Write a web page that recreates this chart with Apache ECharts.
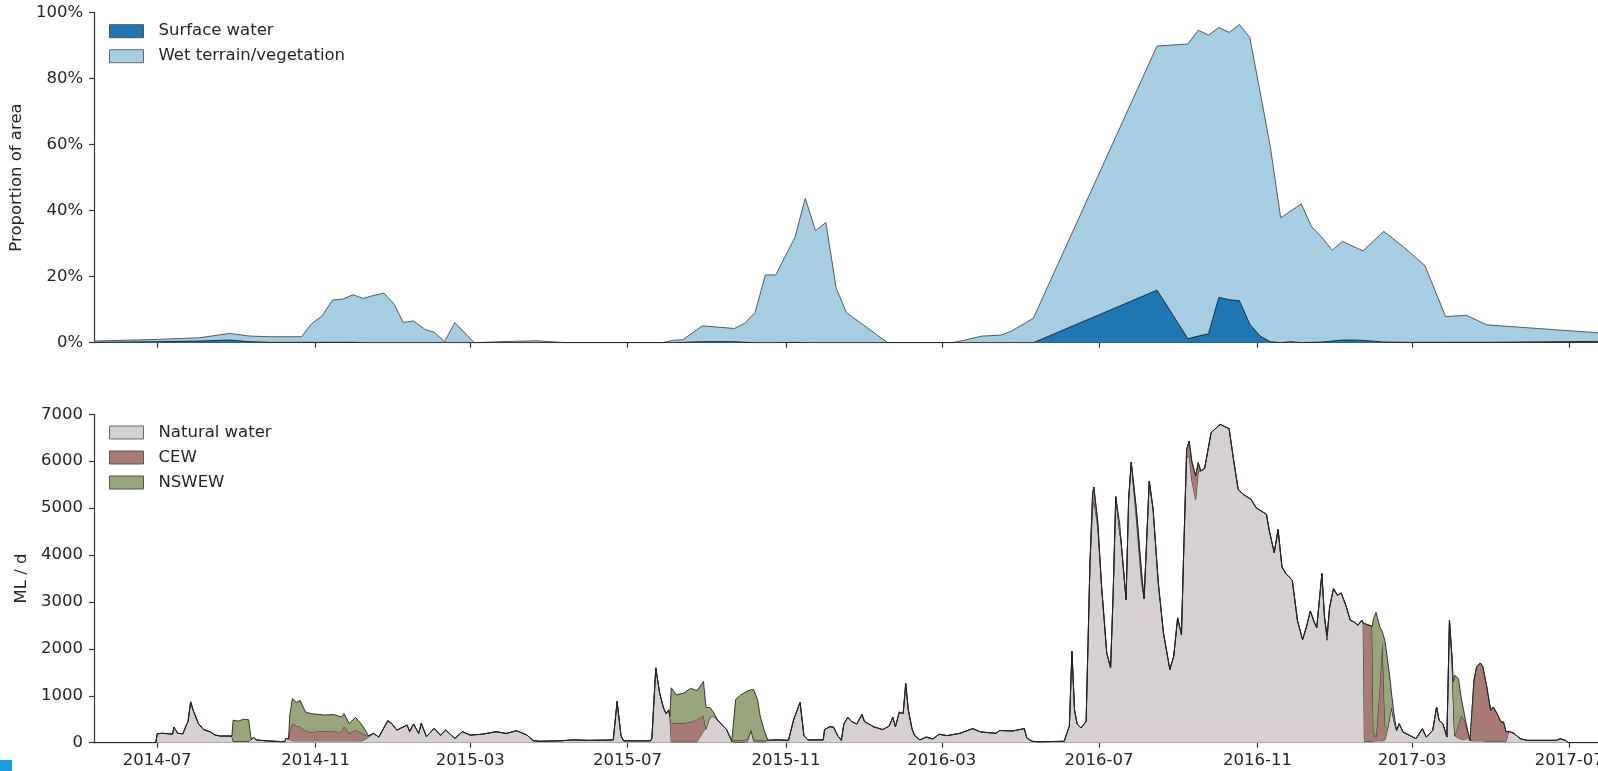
<!DOCTYPE html>
<html>
<head>
<meta charset="utf-8">
<script src="https://cdn.jsdelivr.net/npm/echarts@6/dist/echarts.min.js"></script>
<style>
html,body{margin:0;padding:0;background:#fff;overflow:hidden;}
#chart{width:1640px;height:771px;}
</style>
</head>
<body>
<div id="chart"></div>
<script>
// ---------- Top panel: proportion of area (%) ----------
var areaDates = [
'2014-05-13','2014-07-01','2014-08-03','2014-08-26','2014-09-11','2014-09-27','2014-10-21','2014-10-29',
'2014-11-06','2014-11-14','2014-11-22','2014-11-30','2014-12-08','2014-12-15','2014-12-24','2015-01-01',
'2015-01-08','2015-01-16','2015-01-25','2015-02-01','2015-02-09','2015-02-17','2015-03-04','2015-03-24',
'2015-04-21','2015-05-14','2015-07-28','2015-08-05','2015-08-13','2015-08-28','2015-09-22','2015-09-30',
'2015-10-08','2015-10-16','2015-10-24','2015-11-08','2015-11-16','2015-11-24','2015-12-02','2015-12-10',
'2015-12-18','2016-01-19','2016-03-09','2016-03-18','2016-04-01','2016-04-16','2016-04-24','2016-05-11',
'2016-08-15','2016-09-08','2016-09-16','2016-09-24','2016-10-02','2016-10-10','2016-10-18','2016-10-26',
'2016-11-03','2016-11-11','2016-11-19','2016-11-27','2016-12-05','2016-12-13','2016-12-21','2016-12-29',
'2017-01-06','2017-01-14','2017-01-22','2017-02-07','2017-02-23','2017-03-11','2017-03-27','2017-04-12',
'2017-04-28','2017-08-21'
];
var surfaceWater = [
0.1,0.3,0.5,0.8,0.3,0.1,0.1,0.1,
0.1,0.1,0.1,0.1,0,0,0,0,
0,0,0,0,0,0,0,0,
0,0,0,0,0.1,0.3,0.3,0.1,
0,0,0,0.1,0,0,0,0,
0,0,0,0,0,0,0,0,
15.9,1.2,2.0,2.7,13.7,13.0,12.7,5.6,
2.0,0.3,0,0.3,0,0.1,0.2,0.5,
0.8,0.8,0.7,0.2,0.1,0.1,0.1,0.1,
0.1,0.5
];
var wetTerrain = [
0.4,0.7,1.0,2.0,1.7,1.7,1.7,5.7,
8.0,12.8,13.1,14.4,13.4,14.2,15.0,11.6,
6.1,6.6,4.0,3.2,0.3,6.1,0,0.3,
0.6,0,0,0.7,0.8,4.8,4.0,5.8,
9.1,20.5,20.5,31.8,43.7,33.9,36.4,16.5,
9.1,0,0,0.7,2.0,2.3,3.5,7.4,
73.9,89.2,92.6,90.4,81.7,80.9,83.6,86.8,
74.0,58.9,37.8,39.6,42.0,35.0,31.7,27.5,
29.9,28.4,27.1,33.5,28.7,23.2,7.8,8.2,
5.3,1.7
];

// ---------- Bottom panel: flow (ML/d) ----------
var flowDates = [
'2014-05-13','2014-06-30','2014-07-01','2014-07-05','2014-07-10','2014-07-13','2014-07-14','2014-07-17',
'2014-07-21','2014-07-24','2014-07-25','2014-07-27','2014-07-29','2014-08-02','2014-08-06','2014-08-11',
'2014-08-15','2014-08-19','2014-08-28','2014-08-29','2014-09-02','2014-09-06','2014-09-10','2014-09-12',
'2014-09-14','2014-09-16','2014-09-26','2014-10-08','2014-10-09','2014-10-11','2014-10-12','2014-10-14',
'2014-10-17','2014-10-20','2014-10-24','2014-10-28','2014-11-08','2014-11-15','2014-11-21','2014-11-23',
'2014-11-27','2014-12-02','2014-12-07','2014-12-11','2014-12-12','2014-12-16','2014-12-20','2014-12-27',
'2014-12-30','2015-01-03','2015-01-11','2015-01-13','2015-01-16','2015-01-20','2015-01-22','2015-01-26',
'2015-02-01','2015-02-06','2015-02-10','2015-02-17','2015-02-23','2015-03-01','2015-03-10','2015-03-21',
'2015-03-29','2015-04-06','2015-04-14','2015-04-19','2015-04-24','2015-05-10','2015-05-20','2015-06-01',
'2015-06-15','2015-06-20','2015-06-23','2015-06-26','2015-06-28','2015-07-19','2015-07-20','2015-07-23',
'2015-07-26','2015-07-29','2015-07-31','2015-08-02','2015-08-03','2015-08-04','2015-08-08','2015-08-14',
'2015-08-19','2015-08-24','2015-08-29','2015-08-31','2015-09-03','2015-09-06','2015-09-09','2015-09-16',
'2015-09-20','2015-09-21','2015-09-23','2015-09-27','2015-10-02','2015-10-05','2015-10-07','2015-10-10',
'2015-10-12','2015-10-15','2015-10-18','2015-10-25','2015-11-03','2015-11-07','2015-11-12','2015-11-15',
'2015-11-18','2015-11-30','2015-12-01','2015-12-05','2015-12-08','2015-12-11','2015-12-14','2015-12-16',
'2015-12-19','2015-12-22','2015-12-26','2015-12-30','2016-01-01','2016-01-08','2016-01-15','2016-01-20',
'2016-01-23','2016-01-25','2016-01-28','2016-01-31','2016-02-02','2016-02-04','2016-02-07','2016-02-09',
'2016-02-13','2016-02-18','2016-02-23','2016-02-28','2016-03-05','2016-03-15','2016-03-25','2016-03-31',
'2016-04-12','2016-04-15','2016-04-25','2016-05-04','2016-05-06','2016-05-10','2016-05-15','2016-06-04',
'2016-06-06','2016-06-08','2016-06-10','2016-06-12','2016-06-14','2016-06-17','2016-06-21','2016-06-24',
'2016-06-26','2016-06-27','2016-06-30','2016-07-03','2016-07-07','2016-07-10','2016-07-12','2016-07-14',
'2016-07-17','2016-07-18','2016-07-22','2016-07-24','2016-07-26','2016-07-30','2016-08-03','2016-08-05',
'2016-08-09','2016-08-12','2016-08-16','2016-08-20','2016-08-25','2016-08-28','2016-08-31','2016-09-03',
'2016-09-05','2016-09-07','2016-09-09','2016-09-11','2016-09-14','2016-09-16','2016-09-18','2016-09-21',
'2016-09-26','2016-10-03','2016-10-10','2016-10-13','2016-10-17','2016-10-21','2016-10-27','2016-10-31',
'2016-11-08','2016-11-10','2016-11-14','2016-11-17','2016-11-20','2016-11-23','2016-11-28','2016-12-02',
'2016-12-06','2016-12-09','2016-12-12','2016-12-15','2016-12-17','2016-12-21','2016-12-23','2016-12-25',
'2016-12-27','2016-12-30','2017-01-02','2017-01-05','2017-01-09','2017-01-12','2017-01-15','2017-01-18',
'2017-01-21','2017-01-22','2017-01-23','2017-01-29','2017-01-30','2017-02-01','2017-02-04','2017-02-06',
'2017-02-08','2017-02-10','2017-02-12','2017-02-13','2017-02-15','2017-02-17','2017-02-19','2017-02-22',
'2017-02-27','2017-03-04','2017-03-09','2017-03-12','2017-03-17','2017-03-20','2017-03-22','2017-03-25',
'2017-03-28','2017-03-30','2017-04-01','2017-04-02','2017-04-03','2017-04-06','2017-04-08','2017-04-11',
'2017-04-13','2017-04-15','2017-04-16','2017-04-18','2017-04-20','2017-04-23','2017-04-25','2017-04-28',
'2017-05-01','2017-05-03','2017-05-06','2017-05-09','2017-05-11','2017-05-13','2017-05-15','2017-05-19',
'2017-05-24','2017-05-29','2017-06-21','2017-06-24','2017-06-28','2017-06-30','2017-08-21'
];
var naturalWater = [
0,0,190,200,190,184,330,200,
190,400,450,870,690,410,280,234,
163,142,142,30,30,30,30,70,
113,57,35,21,92,80,40,40,
40,40,40,40,40,40,40,40,
40,40,40,100,142,198,120,468,
411,269,375,240,397,200,411,128,
305,160,269,92,234,163,180,234,
198,255,163,42,30,40,60,50,
55,60,880,150,40,40,100,1594,
1060,740,620,700,560,20,20,20,
20,20,250,300,550,560,480,280,
30,20,10,10,20,260,30,20,
20,20,50,60,50,490,860,150,
60,60,280,340,330,160,50,400,
540,450,400,600,450,340,280,350,
540,340,650,620,1260,700,280,150,
60,120,80,180,150,200,300,230,
200,260,250,300,100,30,20,30,
200,350,1950,700,400,313,455,3835,
5000,5150,4600,3336,1914,1594,3195,5243,
4500,4332,3052,5186,5982,4772,3421,3066,
5576,4972,3408,2341,1558,1842,2661,2305,
4332,6053,6130,5600,5186,5769,5790,5850,
6609,6786,6694,6110,5399,5292,5186,5008,
4866,4545,4048,4545,3747,3605,3463,2609,
2197,2467,2808,2574,2453,3605,2680,2183,
2894,3285,3143,3192,2894,2609,2574,2503,
2609,2550,30,30,40,40,40,40,
60,300,600,760,450,263,405,228,
156,85,299,120,263,761,476,400,
120,2609,1800,900,150,100,80,60,
100,50,50,40,40,40,40,30,
30,30,30,30,30,30,242,200,
85,50,50,85,50,0,0
];
var cewFlow = [
0,0,0,0,0,0,0,0,
0,0,0,0,0,0,0,0,
0,0,0,0,0,0,0,0,
0,0,0,0,0,0,220,370,
320,300,220,190,210,200,190,310,
160,230,160,40,0,0,0,0,
0,0,0,0,0,0,0,0,
0,0,0,0,0,0,0,0,
0,0,0,0,0,0,0,0,
0,0,0,0,0,0,0,0,
0,0,0,0,0,400,400,400,
420,470,326,0,0,0,0,0,
0,30,50,50,50,20,40,40,
30,20,0,0,0,0,0,0,
0,0,0,0,0,0,0,0,
0,0,0,0,0,0,0,0,
0,0,0,0,0,0,0,0,
0,0,0,0,0,0,0,0,
0,0,0,0,0,0,0,0,
0,0,0,0,0,0,0,0,
300,300,120,0,0,0,0,0,
0,0,0,0,0,200,200,0,
0,0,0,0,0,0,0,0,
0,200,300,400,500,200,0,0,
0,0,0,0,0,0,0,0,
0,0,0,0,0,0,0,0,
0,0,0,0,0,0,0,100,
0,0,0,0,0,0,0,0,
0,0,2510,2450,200,80,1200,2150,
300,0,0,0,0,0,0,0,
0,0,0,0,0,0,0,0,
0,0,0,0,0,300,500,400,
163,0,0,1290,1574,1660,1574,1157,
660,731,589,411,411,198,0,0,
0,0,0,0,0,0,0
];
var nswewFlow = [
0,0,0,0,0,0,0,0,
0,0,0,0,0,0,0,0,
0,0,0,450,430,470,460,0,
0,0,0,0,0,0,340,530,
500,560,400,390,340,360,320,270,
210,270,180,60,0,0,0,0,
0,0,0,0,0,0,0,0,
0,0,0,0,0,0,0,0,
0,0,0,0,0,0,0,0,
0,0,0,0,0,0,0,0,
0,0,0,0,0,750,600,640,
720,620,730,450,200,80,0,0,
0,0,860,960,1030,850,1060,860,
520,240,0,0,0,0,0,0,
0,0,0,0,0,0,0,0,
0,0,0,0,0,0,0,0,
0,0,0,0,0,0,0,0,
0,0,0,0,0,0,0,0,
0,0,0,0,0,0,0,0,
0,0,0,0,0,0,0,0,
0,0,0,0,0,0,0,0,
190,0,0,0,0,0,0,0,
0,0,0,0,0,0,0,0,
0,0,0,0,0,0,0,0,
0,0,0,0,0,0,0,0,
0,0,0,0,0,0,0,0,
0,0,0,0,0,0,0,0,
0,0,0,0,0,0,0,0,
0,0,0,0,2400,2660,1230,170,
1800,1450,730,300,150,0,0,0,
0,0,0,0,0,0,0,0,
0,0,0,400,1286,965,394,87,
0,0,0,0,0,0,0,0,
0,0,0,0,0,0,0,0,
0,0,0,0,0,0,0
];

// ---------- Axis ticks ----------
var xTickDates = ['2014-07-01','2014-11-01','2015-03-01','2015-07-01','2015-11-01',
                  '2016-03-01','2016-07-01','2016-11-01','2017-03-01','2017-07-01'];
var xMin = '2014-05-13', xMax = '2017-08-21';

function ts(s){ return echarts.number.parseDate(s).getTime(); }
var tickVals = xTickDates.map(ts);
// value first, timestamp second -> stacking happens on the value (y) dimension
function pairs(dates, vals){ return dates.map(function(d,i){ return [vals[i], ts(d)]; }); }
function pad(n){ return n < 10 ? '0' + n : '' + n; }

var FONT = 'DejaVu Sans';
var TXT = '#262626';
var AX = '#333333';

function xAxisCfg(gridIndex, showLabels){
  return {
    type: 'value', gridIndex: gridIndex, min: ts(xMin), max: ts(xMax), scale: true,
    axisLine: {show: true, onZero: false, lineStyle: {color: AX, width: 1.2}},
    axisTick: {show: true, length: 5, inside: false, customValues: tickVals, lineStyle: {color: AX, width: 1.2}},
    axisLabel: {show: showLabels, customValues: tickVals, hideOverlap: false, margin: 10,
      showMinLabel: true, showMaxLabel: true,
      fontFamily: FONT, fontSize: 16.5, color: TXT,
      formatter: function(v){ var d = new Date(v); return d.getFullYear() + '-' + pad(d.getMonth() + 1); }},
    splitLine: {show: false}, minorTick: {show: false}
  };
}

function areaSeries(name, xi, stack, dates, vals, fill, edge, z){
  return {name: name, type: 'line', xAxisIndex: xi, yAxisIndex: xi, stack: stack,
    encode: {x: 1, y: 0},
    data: pairs(dates, vals), symbol: 'none', smooth: false,
    lineStyle: {color: edge, width: 0.9}, areaStyle: {color: fill, opacity: 1}, z: z};
}

var chart = echarts.init(document.getElementById('chart'), null, {renderer: 'canvas'});
var option = {
  animation: false,
  backgroundColor: '#ffffff',
  grid: [
    {left: 94, top: 12.3, width: 1541, height: 330.4},
    {left: 94, top: 414.3, width: 1541, height: 328.4}
  ],
  xAxis: [xAxisCfg(0, false), xAxisCfg(1, true)],
  yAxis: [
    {type: 'value', gridIndex: 0, min: 0, max: 100, interval: 20,
     name: 'Proportion of area', nameLocation: 'middle', nameGap: 58,
     nameTextStyle: {fontFamily: FONT, fontSize: 16.5, color: TXT},
     axisLine: {show: true, lineStyle: {color: AX, width: 1.2}},
     axisTick: {show: true, length: 5, lineStyle: {color: AX, width: 1.2}},
     axisLabel: {formatter: function(v){ return v + '%'; }, fontFamily: FONT, fontSize: 16.5, color: TXT, margin: 11},
     splitLine: {show: false}},
    {type: 'value', gridIndex: 1, min: 0, max: 7000, interval: 1000,
     name: 'ML / d', nameLocation: 'middle', nameGap: 55,
     nameTextStyle: {fontFamily: FONT, fontSize: 16.5, color: TXT},
     axisLine: {show: true, lineStyle: {color: AX, width: 1.2}},
     axisTick: {show: true, length: 5, lineStyle: {color: AX, width: 1.2}},
     axisLabel: {formatter: function(v){ return String(v); }, fontFamily: FONT, fontSize: 16.5, color: TXT, margin: 11},
     splitLine: {show: false}}
  ],
  legend: [
    {orient: 'vertical', left: 109, top: 22.7, padding: 0, itemWidth: 34, itemHeight: 13, itemGap: 8,
     selectedMode: false,
     textStyle: {fontFamily: FONT, fontSize: 16.5, color: TXT, lineHeight: 16, padding: [0, 0, 0, 10]},
     data: [
       {name: 'Surface water', icon: 'rect', itemStyle: {color: '#1f78b4', borderColor: '#555', borderWidth: 1}},
       {name: 'Wet terrain/vegetation', icon: 'rect', itemStyle: {color: '#a6cee3', borderColor: '#666', borderWidth: 1}}
     ]},
    {orient: 'vertical', left: 109, top: 424, padding: 0, itemWidth: 34, itemHeight: 13, itemGap: 8,
     selectedMode: false,
     textStyle: {fontFamily: FONT, fontSize: 16.5, color: TXT, lineHeight: 16, padding: [0, 0, 0, 10]},
     data: [
       {name: 'Natural water', icon: 'rect', itemStyle: {color: '#d6d0d0', borderColor: '#666', borderWidth: 1}},
       {name: 'CEW', icon: 'rect', itemStyle: {color: '#a87b75', borderColor: '#555', borderWidth: 1}},
       {name: 'NSWEW', icon: 'rect', itemStyle: {color: '#98a67a', borderColor: '#555', borderWidth: 1}}
     ]}
  ],
  series: [
    areaSeries('Surface water', 0, 'area', areaDates, surfaceWater, '#1f78b4', '#1a1a1a', 3),
    areaSeries('Wet terrain/vegetation', 0, 'area', areaDates, wetTerrain, '#a6cee3', '#4a4a4a', 2),
    areaSeries('Natural water', 1, 'flow', flowDates, naturalWater, '#d6d0d0', '#222', 2),
    areaSeries('CEW', 1, 'flow', flowDates, cewFlow, '#a87b75', '#222', 3),
    areaSeries('NSWEW', 1, 'flow', flowDates, nswewFlow, '#98a67a', '#222', 4)
  ],
  graphic: [
    {type: 'rect', left: 0, top: 760, shape: {width: 12, height: 11}, style: {fill: '#1a9de0'}, silent: true}
  ]
};
chart.setOption(option);
</script>
</body>
</html>
